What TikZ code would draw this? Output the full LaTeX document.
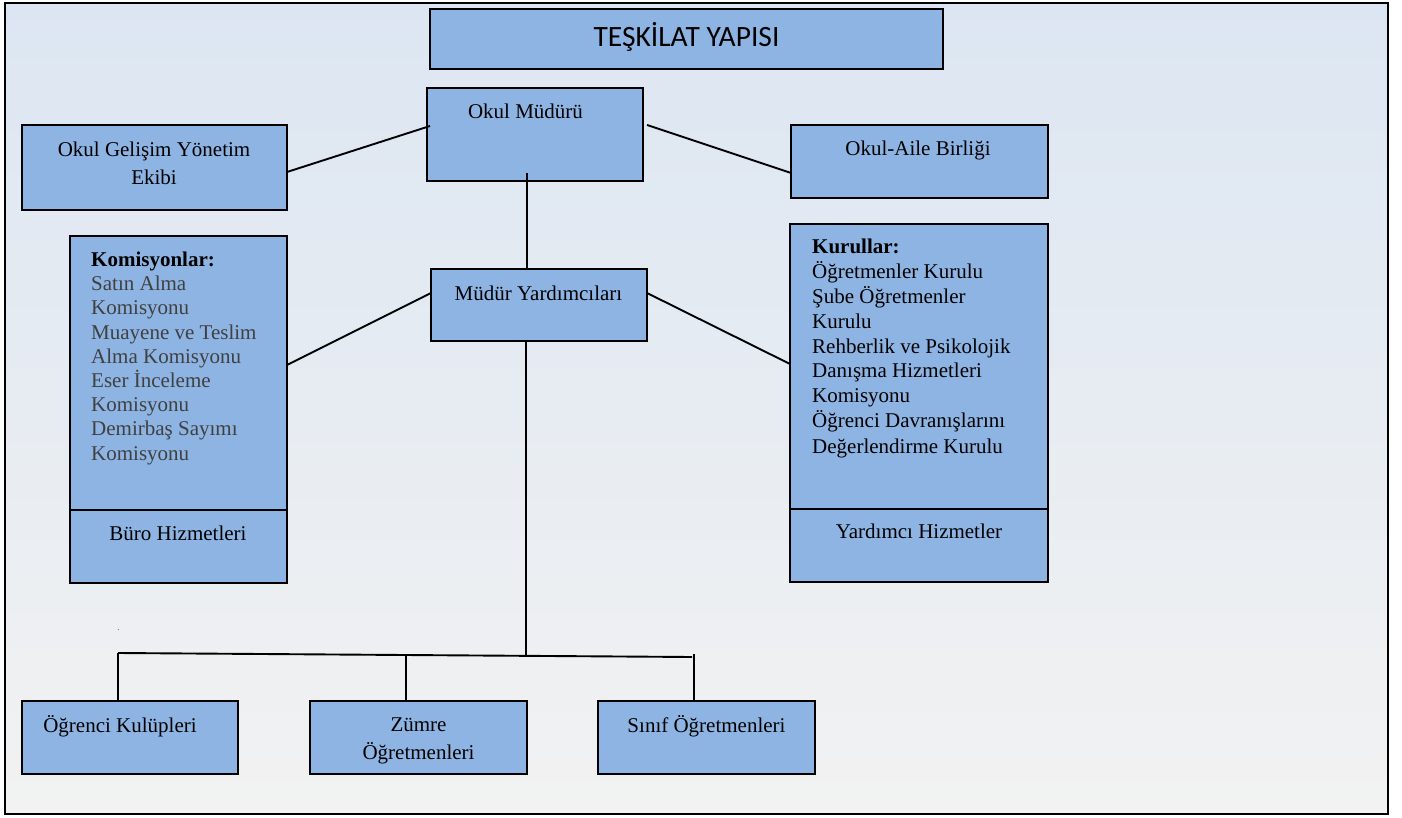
\documentclass[tikz,border=0pt]{standalone}
\usepackage{fontspec}
\setmainfont{Liberation Serif}
\newfontfamily\titlefont{Carlito}
\definecolor{boxblue}{HTML}{8EB4E3}
\definecolor{bgtop}{HTML}{DCE6F2}
\definecolor{bgbot}{HTML}{F2F2F2}
\definecolor{graytext}{HTML}{404040}
\begin{document}
\begin{tikzpicture}[x=1pt,y=-1pt,
  box/.style={draw=black, fill=boxblue, line width=2.2pt, inner sep=0pt, outer sep=0pt},
  conn/.style={draw=black, line width=1.9pt},
  lbl/.style={inner sep=0pt, anchor=base, font=\fontsize{21}{28}\selectfont},
  multi/.style={inner sep=0pt, anchor=north, align=center, font=\fontsize{21}{28}\selectfont},
  listtxt/.style={inner sep=0pt, anchor=north west, align=left}]
\useasboundingbox (0,0) rectangle (1402,818);
\shade[top color=bgtop, bottom color=bgbot] (5,3) rectangle (1388,814);
\draw[line width=2.8pt] (5,3) rectangle (1388,814);

% boxes
\node[box, minimum width=513, minimum height=60] (title) at (686.5,39) {};
\node[box, minimum width=216, minimum height=93] (om) at (535,134.5) {};
\node[box, minimum width=265, minimum height=85] (ogye) at (154.5,167.5) {};
\node[box, minimum width=257, minimum height=73] (oab) at (919.5,161.5) {};
\node[box, minimum width=216, minimum height=72] (my) at (539,305) {};
\node[box, minimum width=217, minimum height=274] (kom) at (178.5,373) {};
\node[box, minimum width=217, minimum height=73] (buro) at (178.5,546.5) {};
\node[box, minimum width=258, minimum height=285] (kur) at (919,366.5) {};
\node[box, minimum width=258, minimum height=73] (yard) at (919,545.5) {};
\node[box, minimum width=216, minimum height=73] (ok) at (130,737.5) {};
\node[box, minimum width=217, minimum height=73] (zum) at (418.5,737.5) {};
\node[box, minimum width=217, minimum height=73] (sin) at (706.5,737.5) {};

% texts
\node[inner sep=0pt, anchor=base, font=\titlefont\fontsize{29.5}{35}\selectfont] (ttxt) at (686.5,47) {TEŞKİLAT YAPISI};
\node[lbl] (omtxt) at (525.5,119) {Okul Müdürü};
\node[multi] (ogyetxt) at (154,141.7) {Okul Gelişim Yönetim\\Ekibi};
\node[lbl] (oabtxt) at (918,156) {Okul-Aile Birliği};
\node[lbl] (mytxt) at (538.5,301) {Müdür Yardımcıları};
\node[listtxt, font=\fontsize{21}{24.2}\selectfont] (komtxt) at (91,251.7)
  {\textbf{Komisyonlar:}\\
   \color{graytext}Satın Alma\\
   \color{graytext}Komisyonu\\
   \color{graytext}Muayene ve Teslim\\
   \color{graytext}Alma Komisyonu\\
   \color{graytext}Eser İnceleme\\
   \color{graytext}Komisyonu\\
   \color{graytext}Demirbaş Sayımı\\
   \color{graytext}Komisyonu};
\node[lbl] (burotxt) at (178,540) {Büro Hizmetleri};
\node[listtxt, font=\fontsize{21}{24.9}\selectfont] (kurtxt) at (812,238.7)
  {\textbf{Kurullar:}\\
   Öğretmenler Kurulu\\
   Şube Öğretmenler\\
   Kurulu\\
   Rehberlik ve Psikolojik\\
   Danışma Hizmetleri\\
   Komisyonu\\
   Öğrenci Davranışlarını\\[1.2pt]
   Değerlendirme Kurulu};
\node[lbl] (yardtxt) at (919,538) {Yardımcı Hizmetler};
\node[lbl] (oktxt) at (120,732) {Öğrenci Kulüpleri};
\node[multi] (zumtxt) at (418.5,717.6) {Zümre\\Öğretmenleri};
\node[lbl] (sintxt) at (706.5,732) {Sınıf Öğretmenleri};

% connectors
\draw[conn] ([xshift=3pt,yshift=8.5pt]om.west) -- ([yshift=-4.5pt]ogye.east);
\draw[conn] ([xshift=4pt,yshift=9.5pt]om.east) -- ([yshift=-11.5pt]oab.west);
\draw[conn] ([xshift=-8pt,yshift=8pt]om.south) coordinate (omdown) -- (omdown |- my.north);
\draw[conn] ([yshift=12pt]my.west) -- ([yshift=8pt]kom.east);
\draw[conn] ([yshift=12pt]my.east) -- ([yshift=2.5pt]kur.west);
\coordinate (hl) at (118,653);
\coordinate (hr) at (692,657);
\coordinate (hz) at (406,655);
\coordinate (hs) at (694,654);
\draw[conn] ([xshift=-13pt]my.south) coordinate (mydown) -- (mydown |- 0,654.5);
\draw[conn] (hl) -- (hr);
\draw[conn] (hl) -- (hl |- ok.north);
\draw[conn] (hz) -- (hz |- zum.north);
\draw[conn] (hs) -- (hs |- sin.north);
\fill[gray] (118.5,629.5) circle (0.7pt);
\end{tikzpicture}
\end{document}
